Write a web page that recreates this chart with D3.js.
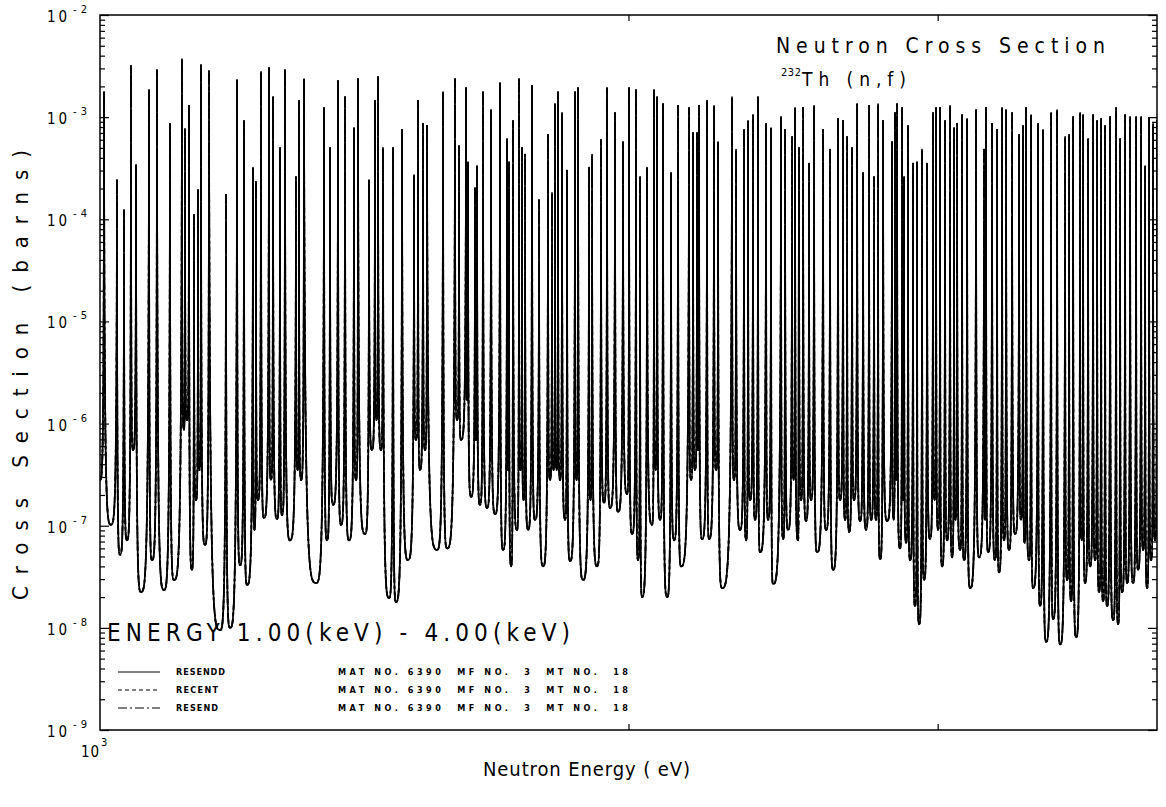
<!DOCTYPE html>
<html>
<head>
<meta charset="utf-8">
<script src="https://cdn.jsdelivr.net/npm/d3@7"></script>
<style>
  body { margin: 0; background: #fff; }
  text { font-family: "DejaVu Sans Condensed", "Liberation Sans Narrow", "DejaVu Sans", sans-serif; fill: #000; }
</style>
</head>
<body>
<svg id="chart" width="1166" height="807"></svg>
<script>
// 232Th(n,f) cross section, 1-4 keV: valley (minimum) before each resonance, then the resonance peak.
const valleyEnergy = [
  1000, 1014.5, 1026.6, 1036.0, 1044.2, 1055.2, 1070.6, 1087.6, 1101.9, 1116.4,
  1120.9, 1128.2, 1134.2, 1139.4, 1147.6, 1170.5, 1185.9, 1201.6, 1212.7, 1224.6,
  1230.2, 1240.0, 1251.4, 1261.3, 1269.6, 1283.0, 1295.7, 1301.7, 1327.6, 1346.8,
  1357.5, 1371.8, 1386.3, 1399.1, 1415.7, 1428.7, 1437.1, 1445.6, 1460.9, 1474.3,
  1497.8, 1513.6, 1521.6, 1531.6, 1555.9, 1576.4, 1597.2, 1605.6, 1618.3, 1626.8,
  1637.5, 1646.2, 1661.3, 1678.9, 1696.6, 1707.7, 1714.5, 1728.0, 1735.9, 1742.8,
  1753.1, 1769.3, 1787.9, 1804.4, 1812.7, 1819.9, 1828.2, 1840.3, 1852.4, 1868.3,
  1884.3, 1902.9, 1919.2, 1936.8, 1952.1, 1972.7, 1996.2, 2009.4, 2025.2, 2035.9,
  2062.7, 2072.2, 2084.5, 2103.7, 2123.1, 2142.7, 2171.0, 2182.4, 2191.0, 2202.6,
  2222.9, 2243.4, 2261.1, 2297.0, 2315.1, 2333.4, 2345.7, 2361.1, 2376.7, 2401.7,
  2417.5, 2449.5, 2465.6, 2483.5, 2498.1, 2508.0, 2524.5, 2541.1, 2561.2, 2591.6,
  2615.5, 2639.6, 2657.0, 2671.0, 2688.6, 2709.8, 2731.2, 2749.2, 2767.2, 2781.8,
  2807.4, 2831.5, 2840.8, 2855.7, 2866.9, 2878.3, 2893.4, 2912.4, 2927.8, 2947.0,
  2970.3, 2987.9, 3001.6, 3017.4, 3037.3, 3057.3, 3071.4, 3089.6, 3105.8, 3130.4,
  3167.5, 3192.5, 3205.1, 3234.6, 3251.7, 3273.1, 3294.7, 3320.7, 3346.9, 3362.3,
  3382.2, 3400.0, 3431.3, 3458.5, 3490.4, 3522.6, 3555.1, 3573.8, 3597.3, 3623.4,
  3640.0, 3664.0, 3688.1, 3707.4, 3726.9, 3746.5, 3776.1, 3801.0, 3821.0, 3846.2,
  3876.6, 3902.1, 3927.8, 3948.4, 3969.1, 3990.0
];
const valleySigma = [
  2.8e-7, 1.02e-7, 5.2e-8, 7.2e-8, 5.5e-7, 2.24e-8, 4.6e-8, 2.35e-8, 2.94e-8, 8.65e-7,
  1.08e-6, 3.7e-8, 1.78e-7, 3.5e-7, 6.5e-8, 9.5e-9, 1.0e-8, 4.1e-8, 2.63e-8, 9.1e-8,
  1.78e-7, 1.19e-7, 2.8e-7, 1.16e-7, 1.27e-7, 7.2e-8, 3.5e-7, 2.8e-7, 2.75e-8, 7.2e-8,
  1.6e-7, 1.02e-7, 7.2e-8, 2.8e-7, 8.3e-8, 5.5e-7, 1.08e-6, 5.5e-7, 1.96e-8, 1.79e-8,
  4.6e-8, 6.9e-7, 3.5e-7, 5.5e-7, 5.8e-8, 6.0e-8, 1.08e-6, 6.9e-7, 1.7e-6, 1.91e-7,
  6.9e-7, 1.6e-7, 1.49e-7, 1.3e-7, 5.8e-8, 3.5e-7, 4.0e-8, 9.1e-8, 3.5e-7, 1.78e-7,
  9.1e-8, 1.14e-7, 4.0e-8, 2.8e-7, 3.5e-7, 3.5e-7, 2.8e-7, 1.14e-7, 4.5e-8, 2.8e-7,
  2.94e-8, 1.78e-7, 4.0e-8, 1.67e-7, 1.49e-7, 1.36e-7, 2.04e-7, 8.3e-8, 4.6e-8, 2.0e-8,
  1.02e-7, 3.5e-7, 1.14e-7, 2.0e-8, 7.2e-8, 4.0e-8, 2.8e-7, 3.5e-7, 5.5e-7, 7.4e-8,
  7.4e-8, 3.5e-7, 2.45e-8, 2.8e-7, 9.1e-8, 7.2e-8, 1.78e-7, 1.14e-7, 5.5e-8, 1.14e-7,
  2.69e-8, 7.4e-8, 9.1e-8, 2.8e-7, 7.2e-8, 1.78e-7, 1.11e-7, 1.78e-7, 5.5e-8, 9.1e-8,
  3.7e-8, 1.78e-7, 1.14e-7, 8.7e-8, 1.78e-7, 1.11e-7, 9.1e-8, 1.14e-7, 1.14e-7, 4.7e-8,
  1.11e-7, 1.14e-7, 2.8e-7, 6.0e-8, 1.78e-7, 6.8e-8, 4.6e-8, 1.64e-8, 1.09e-8, 2.94e-8,
  7.4e-8, 1.78e-7, 9.1e-8, 4.0e-8, 7.2e-8, 4.9e-8, 1.14e-7, 5.8e-8, 4.6e-8, 2.45e-8,
  4.9e-8, 1.14e-7, 5.5e-8, 4.6e-8, 3.5e-8, 7.2e-8, 5.8e-8, 8.3e-8, 1.14e-7, 6.8e-8,
  4.6e-8, 2.45e-8, 1.64e-8, 7.3e-9, 1.22e-8, 6.9e-9, 2.94e-8, 1.83e-8, 8.1e-9, 7.2e-8,
  2.75e-8, 4.0e-8, 4.6e-8, 2.24e-8, 1.83e-8, 1.64e-8, 1.19e-8, 1.09e-8, 2.24e-8, 2.75e-8,
  2.75e-8, 3.7e-8, 5.8e-8, 2.45e-8, 4.6e-8, 7.2e-8
];
const peakEnergy = [
  1005.3, 1022.5, 1032.0, 1041.5, 1048.4, 1066.4, 1077.6, 1096.1, 1113.5, 1117.9,
  1123.8, 1131.2, 1137.2, 1141.6, 1153.7, 1179.7, 1196.9, 1207.9, 1222.2, 1227.0,
  1235.1, 1248.1, 1254.7, 1266.3, 1274.6, 1293.1, 1298.2, 1306.8, 1341.6, 1352.1,
  1366.4, 1379.0, 1395.4, 1402.7, 1423.1, 1434.3, 1440.0, 1449.4, 1468.6, 1486.1,
  1509.7, 1517.6, 1527.6, 1535.6, 1568.2, 1593.0, 1601.4, 1616.2, 1620.4, 1635.4,
  1639.7, 1652.6, 1670.1, 1689.9, 1705.5, 1709.9, 1718.9, 1732.5, 1739.4, 1746.2,
  1762.3, 1778.6, 1799.7, 1809.1, 1816.3, 1823.4, 1833.0, 1845.1, 1864.6, 1871.9,
  1899.2, 1906.6, 1929.2, 1944.5, 1965.0, 1985.7, 2001.5, 2019.9, 2030.6, 2049.3,
  2068.1, 2076.3, 2092.7, 2114.8, 2134.3, 2165.3, 2176.7, 2188.1, 2193.9, 2217.1,
  2237.5, 2249.3, 2290.9, 2303.0, 2327.3, 2339.6, 2354.9, 2370.4, 2395.5, 2411.2,
  2443.0, 2455.9, 2478.6, 2488.3, 2501.4, 2514.6, 2534.4, 2551.1, 2581.4, 2605.2,
  2632.7, 2650.0, 2664.0, 2681.5, 2699.2, 2720.5, 2742.0, 2760.0, 2774.5, 2792.8,
  2825.9, 2837.0, 2844.5, 2863.2, 2870.7, 2885.8, 2904.8, 2920.1, 2939.3, 2958.6,
  2982.0, 2993.8, 3009.5, 3029.3, 3049.3, 3065.3, 3077.4, 3097.7, 3118.1, 3155.0,
  3188.3, 3196.7, 3221.9, 3243.1, 3264.6, 3281.7, 3307.6, 3338.2, 3355.7, 3368.9,
  3391.1, 3422.4, 3444.9, 3481.3, 3508.8, 3545.8, 3564.4, 3583.2, 3616.2, 3630.5,
  3654.4, 3678.4, 3697.8, 3717.2, 3736.7, 3761.3, 3791.0, 3811.0, 3836.1, 3861.3,
  3891.8, 3917.5, 3938.1, 3958.7, 3979.5, 4000
];
const peakSigma = [
  1.76e-3, 2.42e-4, 1.23e-4, 3.17e-3, 3.4e-4, 1.84e-3, 2.89e-3, 8.6e-4, 3.71e-3, 7.65e-4,
  1.29e-3, 1.10e-4, 1.93e-4, 3.24e-3, 2.83e-3, 1.73e-4, 2.31e-3, 9.2e-4, 3.2e-4, 2.32e-4,
  2.77e-3, 3.03e-3, 1.57e-3, 5.0e-4, 2.89e-3, 2.59e-4, 1.44e-3, 2.36e-3, 1.23e-3, 5.0e-4,
  2.26e-3, 1.57e-3, 7.8e-4, 2.36e-3, 2.42e-4, 1.44e-3, 2.47e-3, 5.0e-4, 5.0e-4, 7.5e-4,
  2.71e-4, 1.44e-3, 8.6e-4, 8.2e-4, 1.76e-3, 2.36e-3, 5.2e-4, 1.93e-3, 3.6e-4, 2.02e-4,
  3.3e-4, 1.76e-3, 1.17e-3, 2.16e-3, 6.1e-4, 3.6e-4, 9.2e-4, 2.36e-3, 5.0e-4, 4.3e-4,
  2.02e-3, 1.54e-4, 6.7e-4, 1.81e-4, 1.34e-3, 1.76e-3, 1.10e-3, 3.0e-4, 1.76e-3, 1.93e-3,
  3.2e-4, 4.3e-4, 6.0e-4, 1.93e-3, 1.10e-3, 5.7e-4, 1.93e-3, 1.84e-3, 2.59e-4, 3.2e-4,
  1.84e-3, 1.57e-3, 1.34e-3, 2.84e-4, 1.29e-3, 1.23e-3, 7.0e-4, 7.0e-4, 1.29e-3, 1.44e-3,
  1.29e-3, 5.7e-4, 1.57e-3, 4.8e-4, 7.5e-4, 9.2e-4, 1.05e-3, 1.57e-3, 8.6e-4, 7.8e-4,
  1.0e-3, 7.5e-4, 6.4e-4, 1.23e-3, 5.0e-4, 1.23e-3, 3.5e-4, 1.29e-3, 7.5e-4, 4.8e-4,
  9.6e-4, 9.2e-4, 6.4e-4, 5.0e-4, 1.34e-3, 2.84e-4, 1.29e-3, 2.59e-4, 1.34e-3, 9.2e-4,
  5.7e-4, 1.10e-3, 1.34e-3, 1.23e-3, 2.59e-4, 8.2e-4, 3.5e-4, 3.6e-4, 4.8e-4, 3.5e-4,
  1.10e-3, 1.23e-3, 1.23e-3, 9.2e-4, 1.29e-3, 7.8e-4, 8.6e-4, 1.05e-3, 9.6e-4, 1.17e-3,
  4.8e-4, 1.23e-3, 8.6e-4, 7.5e-4, 1.23e-3, 1.17e-3, 1.10e-3, 6.7e-4, 8.2e-4, 1.23e-3,
  1.05e-3, 8.6e-4, 7.5e-4, 1.10e-3, 1.17e-3, 6.4e-4, 6.7e-4, 1.0e-3, 1.10e-3, 1.05e-3,
  6.1e-4, 1.05e-3, 9.2e-4, 9.6e-4, 8.2e-4, 1.0e-3, 1.23e-3, 6.1e-4, 1.05e-3, 1.0e-3,
  1.0e-3, 1.0e-3, 3.3e-4, 9.6e-4, 8.6e-4, 9.4e-4
];

const yDecades = [1e-2, 1e-3, 1e-4, 1e-5, 1e-6, 1e-7, 1e-8, 1e-9];
const xTickEnergies = [2000, 3000];
const legendNames = ["RESENDD", "RECENT", "RESEND"];
const legendDashes = [null, "4,3", "9,3,2,3"];
const legendInfo = "MAT NO. 6390  MF NO.  3  MT NO.  18";

const plot = { left: 100, right: 1157, top: 15, bottom: 730 };

const svg = d3.select("#chart");
const x = d3.scaleLog().domain([1000, 4000]).range([plot.left, plot.right]);
const y = d3.scaleLog().domain([1e-9, 1e-2]).range([plot.bottom, plot.top]);

// Alternating valley / peak trace
const n = Math.min(valleyEnergy.length, valleySigma.length, peakEnergy.length, peakSigma.length);
const trace = [];
for (let i = 0; i < n; i++) {
  trace.push({ e: valleyEnergy[i], s: valleySigma[i] });
  trace.push({ e: peakEnergy[i], s: peakSigma[i] });
}

// Curve: steep at the higher end of each segment, flat at the lower end,
// giving narrow resonance spikes and rounded valleys on the log axis.
function ResonanceCurve(context) { this._context = context; }
ResonanceCurve.prototype = {
  areaStart() {}, areaEnd() {},
  lineStart() { this._p = null; },
  lineEnd() {},
  point(px, py) {
    const c = this._context;
    if (!this._p) {
      c.moveTo(px, py);
    } else {
      const ax = this._p[0], ay = this._p[1], dx = px - ax;
      if (ay < py) {
        c.bezierCurveTo(ax + 0.05 * dx, py, ax + 0.4 * dx, py, px, py);
      } else if (ay > py) {
        c.bezierCurveTo(px - 0.4 * dx, ay, px - 0.05 * dx, ay, px, py);
      } else {
        c.lineTo(px, py);
      }
    }
    this._p = [px, py];
  }
};
const resonanceCurve = ctx => new ResonanceCurve(ctx);

svg.append("defs").append("clipPath").attr("id", "plotClip")
  .append("rect")
  .attr("x", plot.left).attr("y", plot.top)
  .attr("width", plot.right - plot.left).attr("height", plot.bottom - plot.top);

const line = d3.line().x(d => x(d.e)).y(d => y(d.s)).curve(resonanceCurve);

const curves = svg.append("g").attr("clip-path", "url(#plotClip)");
legendNames.forEach((name, i) => {
  curves.append("path")
    .datum(trace)
    .attr("d", line)
    .attr("fill", "none")
    .attr("stroke", "#000")
    .attr("stroke-width", 1.7)
    .attr("stroke-linejoin", "round")
    .attr("stroke-dasharray", legendDashes[i]);
});

// Axes with inward ticks
const minorY = y.ticks().filter(v => !yDecades.some(d => Math.abs(d - v) / d < 1e-6));
function styleAxis(g) {
  g.select(".domain").remove();
  g.selectAll(".tick line").attr("stroke", "#000").attr("stroke-width", 1.2);
  g.selectAll(".tick text").remove();
}
svg.append("g").attr("transform", `translate(${plot.left},0)`)
  .call(d3.axisLeft(y).tickValues(yDecades).tickSize(-9)).call(styleAxis);
svg.append("g").attr("transform", `translate(${plot.left},0)`)
  .call(d3.axisLeft(y).tickValues(minorY).tickSize(-5)).call(styleAxis);
svg.append("g").attr("transform", `translate(${plot.right},0)`)
  .call(d3.axisRight(y).tickValues(yDecades).tickSize(-9)).call(styleAxis);
svg.append("g").attr("transform", `translate(${plot.right},0)`)
  .call(d3.axisRight(y).tickValues(minorY).tickSize(-5)).call(styleAxis);
svg.append("g").attr("transform", `translate(0,${plot.bottom})`)
  .call(d3.axisBottom(x).tickValues(xTickEnergies).tickSize(-6)).call(styleAxis);
svg.append("g").attr("transform", `translate(0,${plot.top})`)
  .call(d3.axisTop(x).tickValues(xTickEnergies).tickSize(-6)).call(styleAxis);

// Frame
svg.append("rect")
  .attr("x", plot.left).attr("y", plot.top)
  .attr("width", plot.right - plot.left).attr("height", plot.bottom - plot.top)
  .attr("fill", "none").attr("stroke", "#000").attr("stroke-width", 1.5);

// Decade labels
const yLab = svg.append("g");
yDecades.forEach(v => {
  const exp = Math.round(Math.log10(v));
  yLab.append("text").attr("x", 67).attr("y", y(v) + 7)
    .attr("text-anchor", "end").attr("font-size", 15)
    .attr("textLength", 20).attr("lengthAdjust", "spacing").text("10");
  yLab.append("text").attr("x", 73).attr("y", y(v) - 2)
    .attr("font-size", 11)
    .attr("textLength", 14).attr("lengthAdjust", "spacing").text(String(exp));
});
svg.append("text").attr("x", 99).attr("y", 757).attr("text-anchor", "end")
  .attr("font-size", 15).attr("textLength", 18).attr("lengthAdjust", "spacing").text("10");
svg.append("text").attr("x", 101).attr("y", 746).attr("font-size", 11).text("3");

// Axis titles
svg.append("text")
  .attr("transform", "translate(28,375) rotate(-90)")
  .attr("text-anchor", "middle")
  .attr("font-size", 22)
  .attr("textLength", 450).attr("lengthAdjust", "spacing")
  .text("Cross Section (barns)");
svg.append("text")
  .attr("x", 483).attr("y", 776)
  .attr("font-size", 20)
  .attr("textLength", 207).attr("lengthAdjust", "spacing")
  .text("Neutron Energy ( eV)");

// Chart title block
svg.append("text")
  .attr("x", 776).attr("y", 53)
  .attr("font-size", 21)
  .attr("textLength", 329).attr("lengthAdjust", "spacing")
  .text("Neutron Cross Section");
svg.append("text").attr("x", 781).attr("y", 76).attr("font-size", 11)
  .attr("textLength", 20).attr("lengthAdjust", "spacing").text("232");
svg.append("text").attr("x", 802).attr("y", 86).attr("font-size", 19)
  .attr("textLength", 104).attr("lengthAdjust", "spacing").text("Th (n,f)");

// Energy range caption
svg.append("text")
  .attr("x", 107).attr("y", 641)
  .attr("font-size", 24)
  .attr("textLength", 463).attr("lengthAdjust", "spacing")
  .text("ENERGY 1.00(keV) - 4.00(keV)");

// Legend
const legendRows = [672, 690, 708];
legendNames.forEach((name, i) => {
  const ly = legendRows[i];
  svg.append("line")
    .attr("x1", 118).attr("x2", 160).attr("y1", ly).attr("y2", ly)
    .attr("stroke", "#000").attr("stroke-width", 1)
    .attr("stroke-dasharray", legendDashes[i]);
  svg.append("text").attr("x", 176).attr("y", ly + 3)
    .attr("font-size", 9).attr("font-weight", "bold")
    .attr("textLength", name.length * 7).attr("lengthAdjust", "spacing")
    .text(name);
  svg.append("text").attr("x", 338).attr("y", ly + 3)
    .attr("font-size", 9).attr("font-weight", "bold")
    .attr("textLength", 290).attr("lengthAdjust", "spacing")
    .attr("xml:space", "preserve")
    .text(legendInfo);
});
</script>
</body>
</html>
